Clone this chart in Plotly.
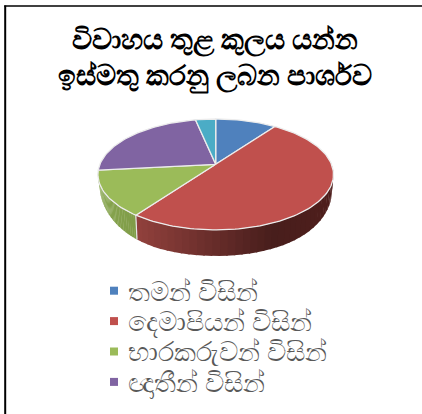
import math
import plotly.graph_objects as go

TITLE = "විවාහය තුළ කුලය යන්න<br>ඉස්මතු කරනු ලබන පාර්ශව"
labels = ["තමන් විසින්", "දෙමාපියන් විසින්", "භාරකරුවන් විසින්", "ඥාතීන් විසින්", "වෙනත්"]
values = [10.0, 50.0, 13.3, 23.4, 3.3]
colors = ["#4f81bd", "#c0504d", "#9bbb59", "#8064a2", "#4bacc6"]
FONT = "Noto Sans, Liberation Sans, DejaVu Sans"

CX, CY = 215.7, 164.3
A, B, K = 115.8, 53.6, 0.183
H = 27.0
SHRINK = 0.985
LEGEND_X, LEGEND_Y, LEGEND_STEP = 114, 290, 30.4


def project(theta, lower=False):
    u, v = math.sin(theta), math.cos(theta)
    d = 1 + K * v
    scale = SHRINK if lower else 1.0
    drop = 0.0
    if lower:
        c = 0.35 if u > 0 else 0.6
        drop = H * (1 - c * abs(u) ** 4)
    return CX + scale * A * u / d, CY - scale * B * v / d + drop


def arc(a0, a1, lower=False, step=math.radians(1.5)):
    n = max(2, int(abs(a1 - a0) / step) + 1)
    pts = [project(a0 + (a1 - a0) * i / (n - 1), lower) for i in range(n)]
    return [p[0] for p in pts], [p[1] for p in pts]


def mix(c0, c1, t):
    return "rgb(%d,%d,%d)" % tuple(round(c0[k] + (c1[k] - c0[k]) * t) for k in range(3))


def wall_color(i, x):
    if i == 1:
        t = (x - 135) / 195
        if t < 0.72:
            return mix((148, 66, 62), (72, 30, 28), t / 0.72)
        return mix((72, 30, 28), (78, 30, 28), (t - 0.72) / 0.28)
    t = (x - 98) / 38
    return mix((136, 166, 80), (128, 156, 72), t)


fig = go.Figure()
total = sum(values)
angles = [0.0]
for v in values:
    angles.append(angles[-1] + v / total * 2 * math.pi)

# side wall: narrow shaded strips along the visible front edge
for i in (1, 2):
    a0 = max(angles[i], math.pi / 2)
    a1 = min(angles[i + 1], 3 * math.pi / 2)
    strips = 40
    for s in range(strips):
        b0 = a0 + (a1 - a0) * s / strips
        b1 = a0 + (a1 - a0) * min(strips, s + 1.2) / strips
        xt, yt = arc(b0, b1)
        xb, yb = arc(b1, b0, True)
        fig.add_trace(go.Scatter(x=xt + xb, y=yt + yb, mode="lines", fill="toself",
                                 fillcolor=wall_color(i, xt[0]), line=dict(width=0),
                                 hoverinfo="skip", showlegend=False))

# pale seam between the two wall colours
xj0, yj0 = project(angles[2])
xj1, yj1 = project(angles[2], True)
fig.add_trace(go.Scatter(x=[xj0, xj1], y=[yj0, yj1], mode="lines",
                         line=dict(color="#e6e6e6", width=1.2), hoverinfo="skip", showlegend=False))

# top face slices
for i in range(len(values)):
    xs, ys = arc(angles[i], angles[i + 1])
    fig.add_trace(go.Scatter(x=[CX] + xs + [CX], y=[CY] + ys + [CY], mode="lines", fill="toself",
                             fillcolor=colors[i], line=dict(color="#ececec", width=1.3),
                             hoverinfo="text", text=labels[i], showlegend=False))

# legend: squares and labels (the last slice has no legend entry in the reference)
annotations = []
for i in range(4):
    y = LEGEND_Y + i * LEGEND_STEP
    fig.add_trace(go.Scatter(x=[LEGEND_X], y=[y + 0.7], mode="markers", showlegend=False, hoverinfo="skip",
                             marker=dict(symbol="square", size=8, color=colors[i])))
    annotations.append(dict(x=LEGEND_X + 12, y=y, xref="x", yref="y", text=labels[i], showarrow=False,
                            xanchor="left", yanchor="middle",
                            font=dict(family=FONT, size=27, color="#595959")))

# frame lines
fig.add_shape(type="line", xref="paper", yref="paper", x0=5.2 / 422, x1=5.2 / 422, y0=0, y1=1 - 5.5 / 414,
              line=dict(color="black", width=2))
fig.add_shape(type="line", xref="paper", yref="paper", x0=4.2 / 422, x1=1, y0=1 - 6 / 414, y1=1 - 6 / 414,
              line=dict(color="black", width=1.5))

fig.update_layout(
    width=422, height=414, margin=dict(l=0, r=0, t=0, b=0),
    paper_bgcolor="white", plot_bgcolor="white", showlegend=False,
    title=dict(text=TITLE, x=215 / 422, xanchor="center", y=1 - 49 / 414, yanchor="top",
               font=dict(family=FONT, size=28, color="black", weight=700)),
    xaxis=dict(range=[0, 422], visible=False, fixedrange=True),
    yaxis=dict(range=[414, 0], visible=False, fixedrange=True),
    annotations=annotations,
)
fig.write_html("out.html", post_script="document.body.style.margin='0'", config=dict(displayModeBar=False))
